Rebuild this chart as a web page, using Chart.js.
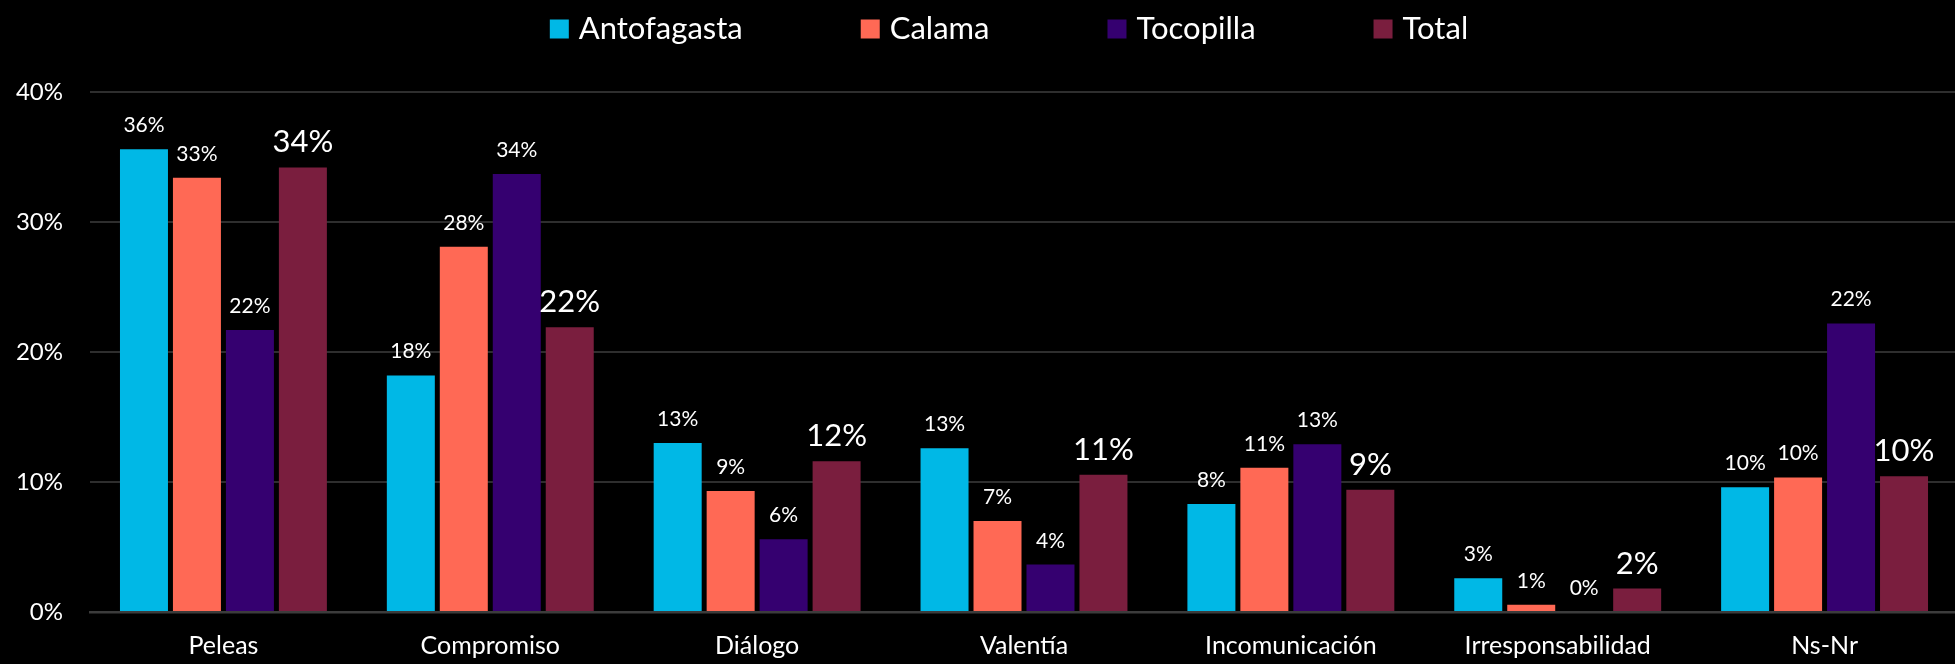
<!DOCTYPE html>
<html>
<head>
<meta charset="utf-8">
<script src="https://cdn.jsdelivr.net/npm/chart.js@4.4.1/dist/chart.umd.min.js"></script>
<style>
  html, body { margin: 0; padding: 0; background: #000; overflow: hidden; }
  canvas { display: block; }
</style>
</head>
<body>
<canvas id="c" width="1960" height="664"></canvas>
<script>
const categories = ["Peleas", "Compromiso", "Diálogo", "Valentía", "Incomunicación", "Irresponsabilidad", "Ns-Nr"];
const seriesNames = ["Antofagasta", "Calama", "Tocopilla", "Total"];
const antofagasta = [35.6, 18.2, 13.0, 12.6, 8.3, 2.6, 9.6];
const calama      = [33.4, 28.1, 9.3, 7.0, 11.1, 0.55, 10.35];
const tocopilla   = [21.7, 33.7, 5.6, 3.65, 12.9, 0.0, 22.2];
const total       = [34.2, 21.9, 11.6, 10.55, 9.4, 1.8, 10.45];
const yTicks = [0, 10, 20, 30, 40];
const colors = ["#00B8E6", "#FF6955", "#350070", "#7A1E3E"];

const FONT = "Lato, 'Open Sans', sans-serif";

const valueLabels = {
  id: 'valueLabels',
  afterDatasetsDraw(chart) {
    const ctx = chart.ctx;
    ctx.save();
    ctx.fillStyle = '#ffffff';
    ctx.textAlign = 'center';
    ctx.textBaseline = 'alphabetic';
    chart.data.datasets.forEach((ds, di) => {
      const meta = chart.getDatasetMeta(di);
      const big = di === 3;
      ctx.font = (big ? '31px ' : '21px ') + FONT;
      meta.data.forEach((el, i) => {
        const v = ds.data[i];
        ctx.fillText(Math.round(v) + '%', el.x, el.y - (big ? 15 : 17));
      });
    });
    ctx.restore();
  }
};

const customLegend = {
  id: 'customLegend',
  afterDraw(chart) {
    const ctx = chart.ctx;
    ctx.save();
    ctx.font = '31px ' + FONT;
    ctx.textBaseline = 'middle';
    const box = 19, gapBox = 10, gapItem = 118;
    const items = chart.data.datasets.map(ds => ({ label: ds.label, color: ds.backgroundColor, w: box + gapBox + ctx.measureText(ds.label).width }));
    const totalW = items.reduce((s, it) => s + it.w, 0) + gapItem * (items.length - 1);
    let x = 1009 - totalW / 2;
    const cy = 29;
    items.forEach(it => {
      ctx.fillStyle = it.color;
      ctx.fillRect(x, cy - box / 2, box, box);
      ctx.fillStyle = '#ffffff';
      ctx.textAlign = 'left';
      ctx.fillText(it.label, x + box + gapBox, cy);
      x += it.w + gapItem;
    });
    ctx.restore();
  }
};

new Chart(document.getElementById('c'), {
  type: 'bar',
  data: {
    labels: categories,
    datasets: [antofagasta, calama, tocopilla, total].map((d, i) => ({
      label: seriesNames[i],
      data: d,
      backgroundColor: colors[i],
      borderWidth: 0,
      categoryPercentage: 0.794,
      barPercentage: 0.906
    }))
  },
  options: {
    responsive: false,
    animation: false,
    devicePixelRatio: 1,
    layout: { padding: { top: 92, right: 2, left: 0, bottom: 0 } },
    plugins: { legend: { display: false }, tooltip: { enabled: false } },
    scales: {
      x: {
        grid: { display: false, drawTicks: false },
        border: { display: true, color: '#3c3c3c', width: 2.5 },
        ticks: { color: '#ffffff', font: { family: FONT, size: 25 }, padding: 19, maxRotation: 0, autoSkip: false },
        afterFit(s) { s.height = 52; }
      },
      y: {
        min: 0, max: 40,
        afterBuildTicks(s) { s.ticks = yTicks.map(v => ({ value: v })); },
        grid: { color: '#2e2e2e', lineWidth: 2, drawTicks: false },
        border: { display: false },
        ticks: { color: '#ffffff', font: { family: FONT, size: 24 }, padding: 27, callback: v => v + '%' },
        afterFit(s) { s.width = 90; }
      }
    }
  },
  plugins: [valueLabels, customLegend]
});
</script>
</body>
</html>
